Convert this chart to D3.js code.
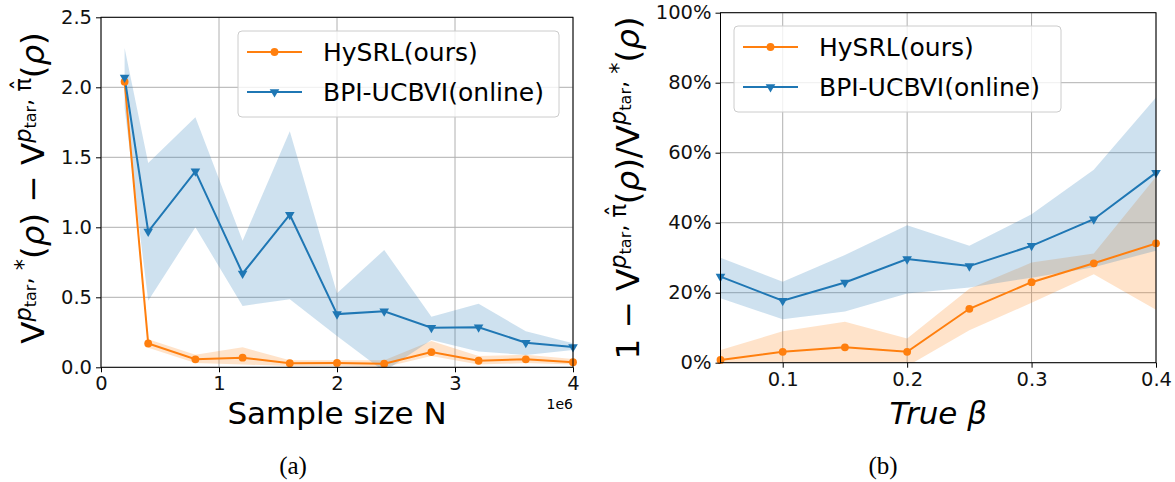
<!DOCTYPE html>
<html>
<head>
<meta charset="utf-8">
<script src="https://cdn.jsdelivr.net/npm/d3@7"></script>
<style>
  body { margin: 0; background: #fff; }
  svg { font-family: "DejaVu Sans", sans-serif; }
</style>
</head>
<body>
<svg id="fig" width="1175" height="482"></svg>
<script>
// panel (a): gap vs sample size N (in units of 1e6)
const sampleN = [0.2, 0.4, 0.8, 1.2, 1.6, 2.0, 2.4, 2.8, 3.2, 3.6, 4.0];
const hysrlGap   = [2.04, 0.17, 0.057, 0.069, 0.029, 0.031, 0.026, 0.109, 0.047, 0.057, 0.036];
const hysrlGapLo = [2.00, 0.14, 0.030, 0.020, 0.010, 0.010, 0.000, 0.080, 0.020, 0.030, 0.020];
const hysrlGapHi = [2.08, 0.20, 0.090, 0.143, 0.050, 0.050, 0.050, 0.188, 0.080, 0.090, 0.060];
const bpiGap     = [2.07, 0.97, 1.40, 0.67, 1.09, 0.38, 0.40, 0.283, 0.286, 0.176, 0.145];
const bpiGapLo   = [1.85, 0.476, 1.00, 0.438, 0.486, 0.224, -0.03, 0.195, 0.112, 0.088, 0.124];
const bpiGapHi   = [2.28, 1.46, 1.786, 0.904, 1.686, 0.529, 0.838, 0.361, 0.454, 0.257, 0.171];

// panel (b): relative gap vs true beta (fractions)
const trueBeta = [0.05, 0.10, 0.15, 0.20, 0.25, 0.30, 0.35, 0.40];
const hysrlRatio   = [0.008, 0.031, 0.044, 0.031, 0.154, 0.230, 0.284, 0.341];
const hysrlRatioLo = [-0.02, -0.03, -0.03, -0.01, 0.093, 0.171, 0.253, 0.151];
const hysrlRatioHi = [0.036, 0.090, 0.117, 0.069, 0.211, 0.286, 0.312, 0.531];
const bpiRatio     = [0.246, 0.177, 0.229, 0.296, 0.276, 0.334, 0.410, 0.543];
const bpiRatioLo   = [0.184, 0.124, 0.146, 0.198, 0.215, 0.243, 0.273, 0.320];
const bpiRatioHi   = [0.300, 0.231, 0.308, 0.393, 0.334, 0.424, 0.551, 0.758];

const seriesNames = ["HySRL(ours)", "BPI-UCBVI(online)"];
const gapTicks = [0, 0.5, 1.0, 1.5, 2.0, 2.5];
const nTicks = [0, 1, 2, 3, 4];
const betaTicks = [0.1, 0.2, 0.3, 0.4];
const ratioTicks = [0, 0.2, 0.4, 0.6, 0.8, 1.0];

const ORANGE = "#ff7f0e", BLUE = "#1f77b4";
const svg = d3.select("#fig");

// draws the label as pieces of text with raised/lowered parts
// part = [text, size, dy, italic, dx]
function mathLabel(g, parts) {
  const t = g.append("text").attr("text-anchor", "middle").attr("fill", "#000");
  parts.forEach(p => {
    t.append("tspan")
      .attr("dy", p[2] || 0)
      .attr("dx", p[4] || 0)
      .attr("font-size", p[1])
      .attr("font-style", p[3] ? "italic" : null)
      .text(p[0]);
  });
}

function drawPanel(cfg) {
  const x = d3.scaleLinear().domain(cfg.xDomain).range([cfg.left, cfg.right]);
  const y = d3.scaleLinear().domain(cfg.yDomain).range([cfg.bottom, cfg.top]);
  const g = svg.append("g");

  // grid
  g.append("g").selectAll("line").data(cfg.xTicks).enter().append("line")
    .attr("x1", d => x(d)).attr("x2", d => x(d))
    .attr("y1", cfg.top).attr("y2", cfg.bottom)
    .attr("stroke", "#b0b0b0").attr("stroke-width", 1);
  g.append("g").selectAll("line").data(cfg.yTicks).enter().append("line")
    .attr("y1", d => y(d)).attr("y2", d => y(d))
    .attr("x1", cfg.left).attr("x2", cfg.right)
    .attr("stroke", "#b0b0b0").attr("stroke-width", 1);

  const clipId = "clip" + cfg.id;
  svg.append("clipPath").attr("id", clipId).append("rect")
    .attr("x", cfg.left).attr("y", cfg.top)
    .attr("width", cfg.right - cfg.left).attr("height", cfg.bottom - cfg.top);
  const plot = g.append("g").attr("clip-path", "url(#" + clipId + ")");

  const area = d3.area().x((d, i) => x(cfg.xs[i])).y0(d => y(d[0])).y1(d => y(d[1]));
  const line = d3.line().x((d, i) => x(cfg.xs[i])).y(d => y(d));

  cfg.series.forEach(s => {
    plot.append("path")
      .datum(s.lo.map((v, i) => [v, s.hi[i]]))
      .attr("d", area).attr("fill", s.color).attr("fill-opacity", 0.22);
  });
  cfg.series.forEach(s => {
    plot.append("path").datum(s.mid).attr("d", line)
      .attr("fill", "none").attr("stroke", s.color).attr("stroke-width", 2);
    g.append("g").selectAll("path").data(s.mid).enter().append("path")
      .attr("fill", s.color)
      .attr("transform", (d, i) => "translate(" + x(cfg.xs[i]) + "," + y(d) + ")" + (s.tri ? " rotate(180)" : ""))
      .attr("d", s.tri ? d3.symbol(d3.symbolTriangle, 40)() : d3.symbol(d3.symbolCircle, 48)());
  });

  // frame
  g.append("rect").attr("x", cfg.left).attr("y", cfg.top)
    .attr("width", cfg.right - cfg.left).attr("height", cfg.bottom - cfg.top)
    .attr("fill", "none").attr("stroke", "#000").attr("stroke-width", 1);

  // axes
  const xa = g.append("g").attr("transform", "translate(0," + cfg.bottom + ")")
    .call(d3.axisBottom(x).tickValues(cfg.xTicks).tickFormat(cfg.xFormat).tickSize(5).tickPadding(4).tickSizeOuter(0));
  const ya = g.append("g").attr("transform", "translate(" + cfg.left + ",0)")
    .call(d3.axisLeft(y).tickValues(cfg.yTicks).tickFormat(cfg.yFormat).tickSize(5).tickPadding(4).tickSizeOuter(0));
  [xa, ya].forEach(a => {
    a.select(".domain").remove();
    a.selectAll("text").attr("font-size", 19.5).attr("font-family", "DejaVu Sans").attr("fill", "#111");
    a.selectAll("line").attr("stroke", "#000");
  });

  // x label
  g.append("text").attr("x", (cfg.left + cfg.right) / 2).attr("y", 424)
    .attr("text-anchor", "middle").attr("font-size", 31)
    .attr("font-style", cfg.xItalic ? "italic" : null).text(cfg.xLabel);

  // y label
  const yl = g.append("g").attr("transform", "translate(" + cfg.yLabelX + ",188) rotate(-90)");
  mathLabel(yl, cfg.yLabel);

  // legend
  const lg = g.append("g").attr("transform", "translate(" + cfg.legX + "," + cfg.legY + ")");
  lg.append("rect").attr("width", cfg.legW).attr("height", 86).attr("rx", 4)
    .attr("fill", "#fff").attr("fill-opacity", 0.8).attr("stroke", "#cccccc");
  cfg.series.forEach((s, i) => {
    const ry = 21 + i * 40;
    lg.append("line").attr("x1", 9).attr("x2", 64).attr("y1", ry).attr("y2", ry)
      .attr("stroke", s.color).attr("stroke-width", 2);
    lg.append("path").attr("fill", s.color)
      .attr("transform", "translate(36.5," + ry + ")" + (s.tri ? " rotate(180)" : ""))
      .attr("d", s.tri ? d3.symbol(d3.symbolTriangle, 40)() : d3.symbol(d3.symbolCircle, 48)());
    lg.append("text").attr("x", 85).attr("y", ry + 9).attr("font-size", 25).text(s.name);
  });

  // caption
  svg.append("text").attr("x", cfg.capX).attr("y", 474).attr("text-anchor", "middle")
    .attr("font-family", "Liberation Serif").attr("font-size", 25).text(cfg.caption);
  return g;
}

const sup = 22.5, sub = 16, base = 32.5;
// superscript "p_tar, π̂" with the hat placed over the pi
const supPiHat = [["p", sup, -13, true], ["tar", sub, 5], [", π", sup, -5],
                  ["ˆ", sup, -3, false, -12.5]];
const supStar = [["p", sup, -13, true], ["tar", sub, 5], [", *", sup, -5]];

const pA = drawPanel({
  id: "a", left: 101, right: 573, top: 17.3, bottom: 367.3,
  xDomain: [0, 4], yDomain: [0, 2.5], xs: sampleN,
  xTicks: nTicks, yTicks: gapTicks,
  xFormat: d3.format("d"), yFormat: d3.format(".1f"),
  xLabel: "Sample size N", yLabelX: 44,
  yLabel: [["V", base]].concat(supStar,
           [["(", base, 13], ["ρ", base, 0, true], [") − V", base]],
           supPiHat,
           [["(", base, 16, false, 1], ["ρ", base, 0, true], [")", base]]),
  legX: 238, legY: 31, legW: 321, capX: 293, caption: "(a)",
  series: [
    { name: seriesNames[0], color: ORANGE, mid: hysrlGap, lo: hysrlGapLo, hi: hysrlGapHi, tri: false },
    { name: seriesNames[1], color: BLUE, mid: bpiGap, lo: bpiGapLo, hi: bpiGapHi, tri: true }
  ]
});
pA.append("text").attr("x", 573).attr("y", 409).attr("text-anchor", "end")
  .attr("font-size", 14).text("1e6");

drawPanel({
  id: "b", left: 720.5, right: 1156, top: 12.7, bottom: 362.7,
  xDomain: [0.05, 0.4], yDomain: [0, 1], xs: trueBeta,
  xTicks: betaTicks, yTicks: ratioTicks,
  xFormat: d3.format(".1f"), yFormat: d3.format(".0%"),
  xLabel: "True β", xItalic: true, yLabelX: 639,
  yLabel: [["1 − V", base]].concat(supPiHat,
           [["(", base, 16, false, 1], ["ρ", base, 0, true], [")/V", base]],
           supStar,
           [["(", base, 13], ["ρ", base, 0, true], [")", base]]),
  legX: 734, legY: 26, legW: 327, capX: 883, caption: "(b)",
  series: [
    { name: seriesNames[0], color: ORANGE, mid: hysrlRatio, lo: hysrlRatioLo, hi: hysrlRatioHi, tri: false },
    { name: seriesNames[1], color: BLUE, mid: bpiRatio, lo: bpiRatioLo, hi: bpiRatioHi, tri: true }
  ]
});
</script>
</body>
</html>
